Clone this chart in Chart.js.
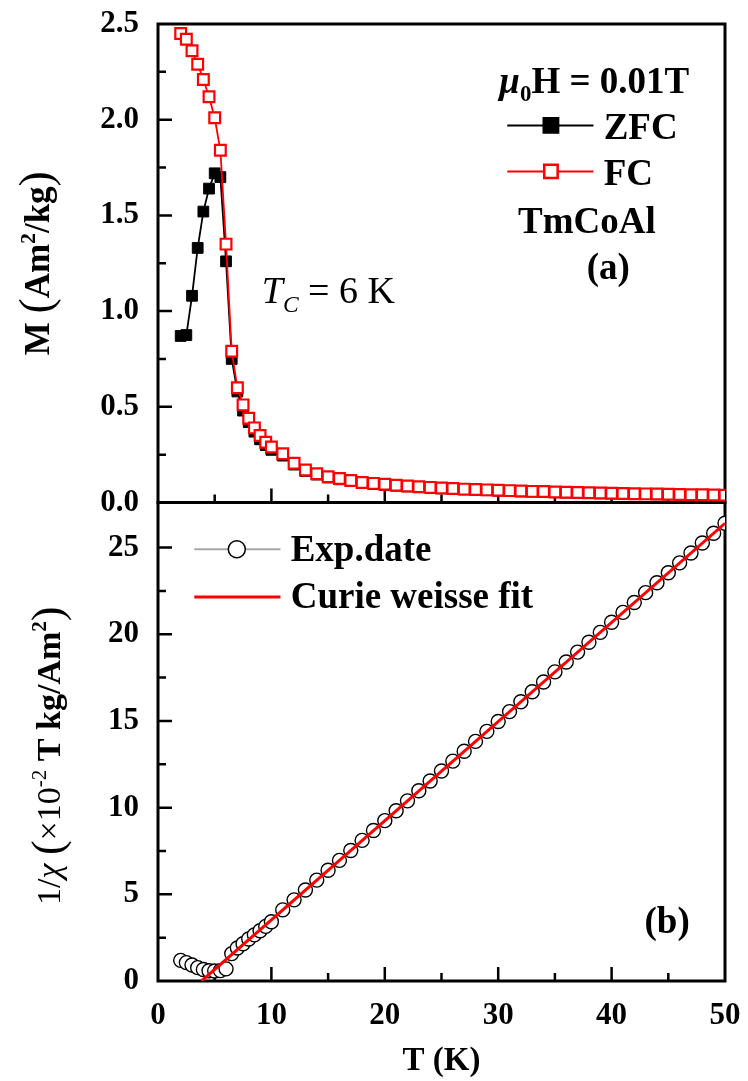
<!DOCTYPE html>
<html>
<head>
<meta charset="utf-8">
<script src="https://cdn.jsdelivr.net/npm/chart.js@4/dist/chart.umd.min.js"></script>
<style>
  html, body { margin: 0; padding: 0; background: #fff; }
  #chart { display: block; }
</style>
</head>
<body>
<canvas id="chart" width="748" height="1081"></canvas>
<script>
// temperature grid (K): 0.5 K steps up to 10 K, then 1 K steps
const temps = [2, 2.5, 3, 3.5, 4, 4.5, 5, 5.5, 6, 6.5, 7, 7.5, 8, 8.5, 9, 9.5, 10,
  11, 12, 13, 14, 15, 16, 17, 18, 19, 20,
  21, 22, 23, 24, 25, 26, 27, 28, 29, 30,
  31, 32, 33, 34, 35, 36, 37, 38, 39, 40,
  41, 42, 43, 44, 45, 46, 47, 48, 49, 50];

// M (Am^2/kg), zero-field-cooled
const zfcM = [0.87, 0.875, 1.08, 1.33, 1.52, 1.64, 1.72, 1.70, 1.26, 0.75, 0.58, 0.48, 0.42, 0.37, 0.33, 0.30, 0.275,
  0.245, 0.198, 0.165, 0.146, 0.131, 0.121, 0.112, 0.102, 0.097, 0.092,
  0.088, 0.084, 0.080, 0.077, 0.074, 0.071, 0.068, 0.066, 0.064, 0.062,
  0.060, 0.058, 0.057, 0.055, 0.054, 0.052, 0.051, 0.050, 0.048, 0.047,
  0.046, 0.045, 0.044, 0.043, 0.042, 0.041, 0.040, 0.039, 0.038, 0.037];

// M (Am^2/kg), field-cooled
const fcM = [2.45, 2.42, 2.36, 2.29, 2.21, 2.12, 2.01, 1.84, 1.35, 0.79, 0.60, 0.51, 0.44, 0.39, 0.35, 0.315, 0.29,
  0.255, 0.205, 0.17, 0.15, 0.135, 0.125, 0.115, 0.105, 0.100, 0.095,
  0.090, 0.086, 0.082, 0.079, 0.076, 0.073, 0.070, 0.068, 0.066, 0.064,
  0.062, 0.060, 0.058, 0.057, 0.055, 0.054, 0.052, 0.051, 0.050, 0.048,
  0.047, 0.046, 0.045, 0.044, 0.043, 0.042, 0.041, 0.040, 0.039, 0.038];

// 1/chi (x10^-2 T kg/Am^2)
const invChi = [1.19, 1.06, 0.92, 0.77, 0.66, 0.59, 0.58, 0.60, 0.70, 1.58, 1.90, 2.15, 2.42, 2.66, 2.90, 3.15, 3.42,
  4.10, 4.68, 5.25, 5.82, 6.39, 6.96, 7.53, 8.11, 8.68, 9.25,
  9.82, 10.39, 10.97, 11.54, 12.11, 12.68, 13.25, 13.82, 14.40, 14.97,
  15.54, 16.11, 16.68, 17.25, 17.83, 18.40, 18.97, 19.54, 20.11, 20.69,
  21.26, 21.83, 22.40, 22.97, 23.55, 24.12, 24.69, 25.26, 25.83, 26.40];

// Curie-Weiss fit line end points
const fitT = [3.84, 50];
const fitInvChi = [0, 26.4];

const xTicks = [0, 10, 20, 30, 40, 50];
const topTicks = [0, 0.5, 1.0, 1.5, 2.0, 2.5];
const botTicks = [0, 5, 10, 15, 20, 25];

const FONT = '"Liberation Serif", "Times New Roman", serif';
const RED = '#ff0000';

const pts = (xs, ys) => xs.map((x, i) => ({ x: x, y: ys[i] }));

function runFont(r, size) {
  let s = size;
  if (r.sub || r.sup) s = size * 0.62;
  if (r.big) s = size * r.big;
  return { s: s, font: (r.italic ? 'italic ' : '') + (r.bold === false ? '' : 'bold ') + s + 'px ' + FONT };
}

// draw a row of styled text pieces (sub/superscripts, italics)
function drawRuns(ctx, x, y, runs, size) {
  let cx = x;
  for (const r of runs) {
    const f = runFont(r, size);
    ctx.font = f.font;
    let dy = r.sub ? size * 0.22 : r.sup ? -size * 0.4 : 0;
    if (r.big) dy = size * 0.06;
    ctx.fillText(r.t, cx, y + dy);
    cx += ctx.measureText(r.t).width;
  }
  return cx - x;
}

function runsWidth(ctx, runs, size) {
  let w = 0;
  for (const r of runs) {
    ctx.font = runFont(r, size).font;
    w += ctx.measureText(r.t).width;
  }
  return w;
}

function drawVertical(ctx, cx, cy, runs, size) {
  ctx.save();
  ctx.translate(cx, cy);
  ctx.rotate(-Math.PI / 2);
  const w = runsWidth(ctx, runs, size);
  drawRuns(ctx, -w / 2, size * 0.34, runs, size);
  ctx.restore();
}

const framePlugin = {
  id: 'frame',
  beforeDatasetsDraw(chart) {
    const ctx = chart.ctx;
    const x = chart.scales.x;
    ctx.save();
    ctx.strokeStyle = '#000';
    for (const id of ['yTop', 'yBot']) {
      const y = chart.scales[id];
      ctx.lineWidth = 3;
      ctx.strokeRect(x.left, y.top, x.right - x.left, y.bottom - y.top);
      // inward ticks on the left axis
      ctx.lineWidth = 2.5;
      const vals = y.ticks.map(t => t.value);
      const step = vals[1] - vals[0];
      ctx.beginPath();
      for (const v of vals) {
        const py = y.getPixelForValue(v);
        if (py < y.top + 3 || py > y.bottom - 3) continue;
        ctx.moveTo(x.left, py); ctx.lineTo(x.left + 14, py);
      }
      for (const v of vals) {
        const py = y.getPixelForValue(v + step / 2);
        if (py < y.top + 4 || py > y.bottom - 3) continue;
        ctx.moveTo(x.left, py); ctx.lineTo(x.left + 8, py);
      }
      // inward ticks along the bottom of each panel
      for (const v of x.ticks.map(t => t.value)) {
        const px = x.getPixelForValue(v);
        if (px > x.left + 3 && px < x.right - 3) {
          ctx.moveTo(px, y.bottom); ctx.lineTo(px, y.bottom - 14);
        }
        const pm = x.getPixelForValue(v + 5);
        if (pm > x.left + 3 && pm < x.right - 3) {
          ctx.moveTo(pm, y.bottom); ctx.lineTo(pm, y.bottom - 8);
        }
      }
      ctx.stroke();
    }
    ctx.restore();
  },
  afterDraw(chart) {
    const ctx = chart.ctx;
    const sx = chart.scales.x, st = chart.scales.yTop, sb = chart.scales.yBot;
    const P = (sc, t, v) => [sx.getPixelForValue(t), sc.getPixelForValue(v)];
    const H = Chart.helpers;
    ctx.save();
    ctx.fillStyle = '#000';
    ctx.textBaseline = 'alphabetic';
    ctx.textAlign = 'left';

    // axis titles
    drawVertical(ctx, 37, (st.top + st.bottom) / 2, [
      { t: 'M ' }, { t: '(', big: 1.3, bold: false }, { t: 'Am' }, { t: '2', sup: true }, { t: '/kg' },
      { t: ')', big: 1.3, bold: false }
    ], 35);
    drawVertical(ctx, 48, (sb.top + sb.bottom) / 2 + 14, [
      { t: '1/', bold: false }, { t: 'χ', italic: true, bold: false }, { t: ' ', bold: false },
      { t: '(', big: 1.3, bold: false }, { t: '×10', bold: false },
      { t: '-2', sup: true, bold: false }, { t: ' T kg/Am' }, { t: '2', sup: true },
      { t: ')', big: 1.3, bold: false }
    ], 34);

    // panel (a) annotations
    let p = P(st, 30.1, 2.14);
    drawRuns(ctx, p[0], p[1], [
      { t: 'μ', italic: true }, { t: '0', sub: true }, { t: 'H = 0.01T' }
    ], 37);
    p = P(st, 39.3, 1.90);
    drawRuns(ctx, p[0], p[1], [{ t: 'ZFC' }], 37);
    p = P(st, 39.3, 1.66);
    drawRuns(ctx, p[0], p[1], [{ t: 'FC' }], 37);
    p = P(st, 31.75, 1.41);
    drawRuns(ctx, p[0], p[1], [{ t: 'TmCoAl' }], 37);
    p = P(st, 37.8, 1.17);
    drawRuns(ctx, p[0], p[1], [{ t: '(a)' }], 37);
    p = P(st, 9.15, 1.04);
    drawRuns(ctx, p[0], p[1], [
      { t: 'T', italic: true, bold: false }, { t: 'C', italic: true, bold: false, sub: true },
      { t: ' = 6 K', bold: false }
    ], 38);

    // legend samples for panel (a)
    const legendLine = (sc, t0, t1, v, color, width) => {
      const a = P(sc, t0, v), b = P(sc, t1, v);
      ctx.beginPath();
      ctx.strokeStyle = color; ctx.lineWidth = width;
      ctx.moveTo(a[0], a[1]); ctx.lineTo(b[0], b[1]);
      ctx.stroke();
    };
    legendLine(st, 30.8, 38.4, 1.97, '#000', 2);
    p = P(st, 34.65, 1.97);
    ctx.fillStyle = '#000'; ctx.strokeStyle = '#000'; ctx.lineWidth = 2;
    H.drawPoint(ctx, { pointStyle: 'rect', radius: 10.5, borderWidth: 2 }, p[0], p[1]);
    legendLine(st, 30.8, 38.4, 1.73, RED, 2);
    p = P(st, 34.65, 1.73);
    ctx.fillStyle = '#fff'; ctx.strokeStyle = RED; ctx.lineWidth = 2.5;
    H.drawPoint(ctx, { pointStyle: 'rect', radius: 9.5, borderWidth: 2.5 }, p[0], p[1]);

    // panel (b) annotations and legend
    ctx.fillStyle = '#000';
    p = P(sb, 11.7, 24.25);
    drawRuns(ctx, p[0], p[1], [{ t: 'Exp.date' }], 37);
    p = P(sb, 11.7, 21.5);
    drawRuns(ctx, p[0], p[1], [{ t: 'Curie weisse fit' }], 37);
    p = P(sb, 42.9, 2.77);
    drawRuns(ctx, p[0], p[1], [{ t: '(b)' }], 37);

    legendLine(sb, 3.2, 10.8, 24.9, '#a8a8a8', 2);
    p = P(sb, 6.95, 24.9);
    ctx.fillStyle = '#fff'; ctx.strokeStyle = '#000'; ctx.lineWidth = 1.5;
    H.drawPoint(ctx, { pointStyle: 'circle', radius: 8.5, borderWidth: 1.5 }, p[0], p[1]);
    legendLine(sb, 3.2, 10.8, 22.15, RED, 3);

    ctx.restore();
  }
};

const tickFont = { family: FONT, size: 31, weight: 'bold' };

const noOverflow = s => { s.paddingTop = 0; s.paddingBottom = 0; s.paddingLeft = 0; s.paddingRight = 0; };

new Chart(document.getElementById('chart').getContext('2d'), {
  type: 'line',
  data: {
    datasets: [
      {
        label: 'FC',
        data: pts(temps, fcM),
        xAxisID: 'x', yAxisID: 'yTop',
        borderColor: RED, borderWidth: 1.8,
        pointStyle: 'rect', pointRadius: 7.6, pointBorderWidth: 2.2,
        pointBorderColor: RED, pointBackgroundColor: '#fff',
        tension: 0, order: 1
      },
      {
        label: 'ZFC',
        data: pts(temps, zfcM),
        xAxisID: 'x', yAxisID: 'yTop',
        borderColor: '#000', borderWidth: 1.8,
        pointStyle: 'rect', pointRadius: 7.6, pointBorderWidth: 1,
        pointBorderColor: '#000', pointBackgroundColor: '#000',
        tension: 0, order: 2
      },
      {
        label: 'Curie weisse fit',
        data: pts(fitT, fitInvChi),
        xAxisID: 'x', yAxisID: 'yBot',
        borderColor: RED, borderWidth: 3, pointRadius: 0,
        tension: 0, order: 1
      },
      {
        label: 'Exp.date',
        data: pts(temps, invChi),
        xAxisID: 'x', yAxisID: 'yBot',
        borderColor: '#a8a8a8', borderWidth: 1.5,
        pointStyle: 'circle', pointRadius: 7, pointBorderWidth: 1.4,
        pointBorderColor: '#000', pointBackgroundColor: '#fff',
        tension: 0, order: 2
      }
    ]
  },
  options: {
    responsive: false,
    animation: false,
    devicePixelRatio: 1,
    layout: { padding: { top: 24, right: 23, left: 0, bottom: 0 } },
    plugins: { legend: { display: false }, tooltip: { enabled: false } },
    scales: {
      x: {
        type: 'linear', position: 'bottom', min: 0, max: 50,
        border: { display: false },
        grid: { display: false, drawTicks: false },
        afterBuildTicks: s => { s.ticks = xTicks.map(v => ({ value: v })); },
        ticks: { font: tickFont, color: '#000', padding: 16, maxRotation: 0 },
        title: {
          display: true, text: 'T (K)', color: '#000',
          font: { family: FONT, size: 33, weight: 'bold' }, padding: { top: 2, bottom: 0 }
        },
        afterFit: s => { s.height = 100; noOverflow(s); }
      },
      yBot: {
        type: 'linear', position: 'left', stack: 'panels', stackWeight: 1,
        min: 0, max: 27.6,
        border: { display: false },
        grid: { display: false, drawTicks: false },
        afterBuildTicks: s => { s.ticks = botTicks.map(v => ({ value: v })); },
        ticks: { font: tickFont, color: '#000', padding: 19 },
        afterFit: s => { s.width = 158; noOverflow(s); }
      },
      yTop: {
        type: 'linear', position: 'left', stack: 'panels', stackWeight: 1,
        min: 0, max: 2.5,
        border: { display: false },
        grid: { display: false, drawTicks: false },
        afterBuildTicks: s => { s.ticks = topTicks.map(v => ({ value: v })); },
        ticks: { font: tickFont, color: '#000', padding: 19, callback: v => v.toFixed(1) },
        afterFit: s => { s.width = 158; noOverflow(s); }
      }
    }
  },
  plugins: [framePlugin]
});
</script>
</body>
</html>
